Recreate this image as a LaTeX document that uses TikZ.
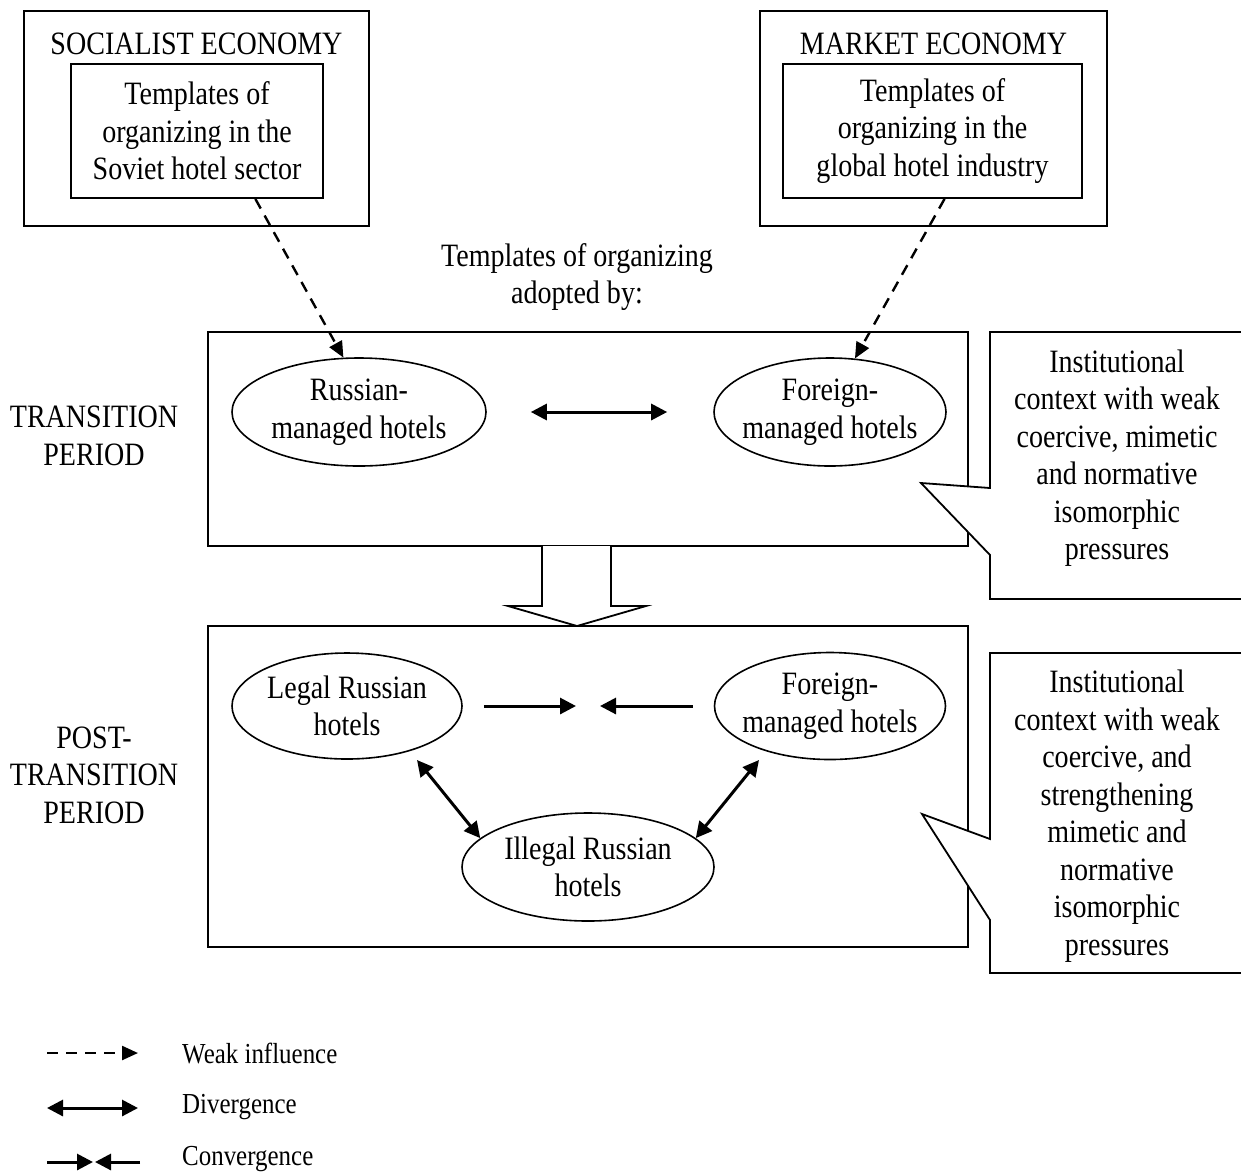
\documentclass[tikz,border=0pt]{standalone}
\usepackage{fontspec}
\setmainfont{Liberation Serif}[FakeStretch=0.86]
\usetikzlibrary{arrows.meta,shapes.geometric,calc}
\newcommand\mainsz{\fontsize{32.6}{37.5}\selectfont}
\newcommand\legsz{\fontsize{29}{34}\selectfont}
\begin{document}
\begin{tikzpicture}[x=1pt,y=-1pt,
 box/.style={draw,line width=1.8pt,rectangle,inner sep=0,align=center,font=\mainsz},
 hotel/.style={draw,ellipse,line width=1.6pt,inner sep=-22pt,align=center,font=\mainsz},
 txt/.style={align=center,font=\mainsz,inner sep=0},
 legtxt/.style={anchor=west,font=\legsz,inner sep=0},
 weak/.style={line width=2.4pt,dash pattern=on 11pt off 8pt,-{Triangle[length=16pt,width=14pt]}},
 solidarr/.style={line width=3pt,-{Triangle[length=16pt,width=16pt]}},
 div/.style={line width=3pt,{Triangle[length=16pt,width=16pt]}-{Triangle[length=16pt,width=16pt]}},
 callout/.style={draw,fill=white,line width=1.8pt,line join=miter},
]
\useasboundingbox (0,0) rectangle (1241,1171);

% top boxes
\node[box,minimum width=345pt,minimum height=215pt] (socout) at (196.5,118.5) {};
\node[txt] (soctitle) at (196.5,44) {SOCIALIST ECONOMY};
\node[box,minimum width=252pt,minimum height=134pt] (socin) at (197,131)
  {Templates of\\organizing in the\\Soviet hotel sector};
\node[box,minimum width=347pt,minimum height=215pt] (mktout) at (933.5,118.5) {};
\node[txt] (mkttitle) at (933.5,44) {MARKET ECONOMY};
\node[box,minimum width=299pt,minimum height=134pt] (mktin) at (932.5,131)
  {Templates of\\organizing in the\\global hotel industry};

\node[txt] (adopt) at (577,277) {Templates of organizing\\adopted by:};

% transition period
\node[box,minimum width=760pt,minimum height=214pt] (trans) at (588,439) {};
\node[hotel,minimum width=254pt,minimum height=108pt] (rus) at (359,412) {Russian-\\managed hotels};
\node[hotel,minimum width=232pt,minimum height=108pt] (for) at (830,412) {Foreign-\\managed hotels};
\node[txt] (translab) at (94,436) {TRANSITION\\PERIOD};

\draw[weak] ($(socin.south west)!0.73!(socin.south east)$) -- (rus.106);
\draw[weak] ($(mktin.south west)!0.54!(mktin.south east)$) -- (for.65);
\draw[div] ([xshift=44pt]rus.east) -- ([xshift=-46pt]for.west);

% hollow arrow
\draw[line width=1.8pt,fill=white,line join=miter]
  (542,546) -- (542,606) -- (508,606) -- (577,626) -- (646,606) -- (611,606) -- (611,546);

% post-transition period
\node[box,minimum width=760pt,minimum height=321pt] (post) at (588,786.5) {};
\node[hotel,minimum width=230pt,minimum height=106pt] (leg) at (347,706) {Legal Russian\\hotels};
\node[hotel,minimum width=231pt,minimum height=107pt] (fmp) at (830,706) {Foreign-\\managed hotels};
\node[hotel,minimum width=252pt,minimum height=108pt] (ill) at (588,867) {Illegal Russian\\hotels};
\node[txt] (postlab) at (94,775) {POST-\\TRANSITION\\PERIOD};
\coordinate (conv) at (588,706);

\draw[solidarr] ([xshift=21pt]leg.east) -- ([xshift=-12pt]conv);
\draw[solidarr] ([xshift=-21pt]fmp.west) -- ([xshift=12pt]conv);
\draw[div] ($(leg.center)+(70,54)$) -- (ill.165);
\draw[div] ($(fmp.center)+(-71,54)$) -- (ill.15);

% callouts
\draw[callout] (990,332) -- (1250,332) -- (1250,599) -- (990,599) -- (990,555) -- (921,483) -- (990,488) -- cycle;
\node[txt] (call1) at (1117,458) {Institutional\\context with weak\\coercive, mimetic\\and normative\\isomorphic\\pressures};
\draw[callout] (990,653) -- (1250,653) -- (1250,973) -- (990,973) -- (990,920) -- (922,814) -- (990,839) -- cycle;
\node[txt] (call2) at (1117,816) {Institutional\\context with weak\\coercive, and\\strengthening\\mimetic and\\normative\\isomorphic\\pressures};

% legend
\coordinate (l1a) at (47,1053); \coordinate (l1b) at (138,1053);
\coordinate (l2a) at (47,1108); \coordinate (l2b) at (138,1108);
\coordinate (l3a) at (47,1162); \coordinate (l3m) at (94,1162); \coordinate (l3b) at (140,1162);
\draw[weak] (l1a) -- (l1b);
\draw[div] (l2a) -- (l2b);
\draw[solidarr] (l3a) -- ([xshift=-1pt]l3m);
\draw[solidarr] (l3b) -- ([xshift=1pt]l3m);
\node[legtxt] (lg1) at (182,1053) {Weak influence};
\node[legtxt] (lg2) at (182,1107) {Divergence};
\node[legtxt] (lg3) at (182,1159) {Convergence};
\end{tikzpicture}
\end{document}
